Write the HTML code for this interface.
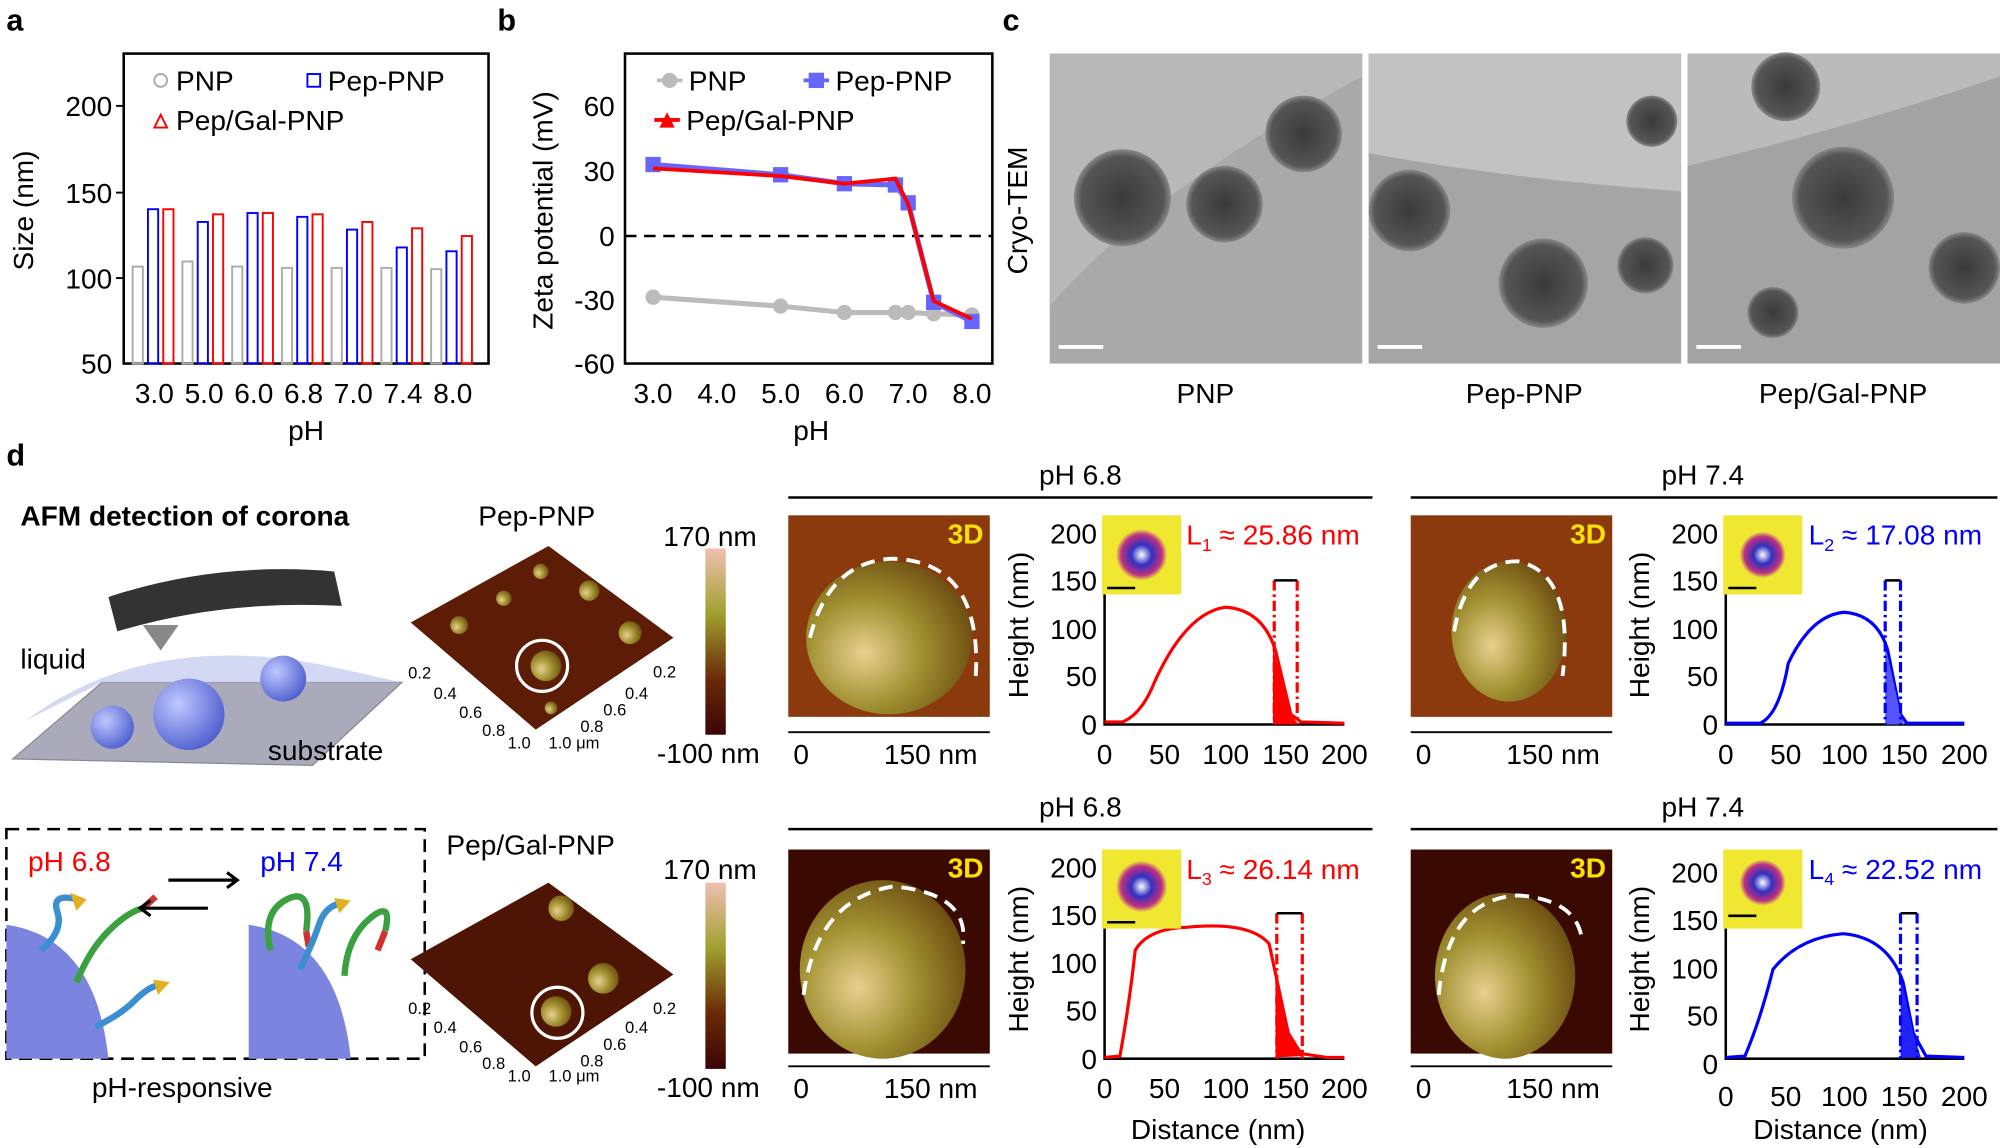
<!DOCTYPE html>
<html><head><meta charset="utf-8"><style>
html,body{margin:0;padding:0;background:#fff;}
svg{display:block;font-family:"Liberation Sans",Arial,sans-serif;}
</style></head><body>
<svg width="2000" height="1148" viewBox="0 0 1568 900" xmlns="http://www.w3.org/2000/svg">
<defs>
<linearGradient id="cb" x1="0" y1="0" x2="0" y2="1"><stop offset="0" stop-color="#f0c0b0"/><stop offset="0.35" stop-color="#a0a030"/><stop offset="0.7" stop-color="#6a2a08"/><stop offset="1" stop-color="#3a0505"/></linearGradient>
<radialGradient id="sph" cx="0.35" cy="0.6" r="0.7"><stop offset="0" stop-color="#e8d090"/><stop offset="0.5" stop-color="#a09030"/><stop offset="1" stop-color="#6a4a10"/></radialGradient>
<radialGradient id="tem" cx="0.5" cy="0.5" r="0.5"><stop offset="0" stop-color="#3a3a3a"/><stop offset="0.85" stop-color="#555"/><stop offset="1" stop-color="#888"/></radialGradient>
<radialGradient id="ins" cx="0.5" cy="0.5" r="0.5"><stop offset="0" stop-color="#fff"/><stop offset="0.4" stop-color="#3030c0"/><stop offset="0.8" stop-color="#c03080"/><stop offset="1" stop-color="#e8e040"/></radialGradient>
<radialGradient id="bs" cx="0.35" cy="0.35" r="0.7"><stop offset="0" stop-color="#c0c8ff"/><stop offset="1" stop-color="#5060d0"/></radialGradient>
</defs>
<g font-weight="bold" font-size="24"><text x="5" y="24">a</text><text x="390" y="24">b</text><text x="786" y="24">c</text><text x="5" y="365">d</text></g>

<!-- Panel a -->
<g font-size="22">
<rect x="97" y="42" width="286" height="243" fill="none" stroke="#000" stroke-width="2"/>
<g text-anchor="end"><text x="88" y="91">200</text><text x="88" y="159">150</text><text x="88" y="226">100</text><text x="88" y="293">50</text></g>
<g stroke="#000" stroke-width="1.5"><line x1="97" y1="83" x2="91" y2="83"/><line x1="97" y1="151" x2="91" y2="151"/><line x1="97" y1="218" x2="91" y2="218"/></g>
<text transform="translate(26,165) rotate(-90)" text-anchor="middle">Size  (nm)</text>
<g text-anchor="middle"><text x="121" y="316">3.0</text><text x="160" y="316">5.0</text><text x="199" y="316">6.0</text><text x="238" y="316">6.8</text><text x="277" y="316">7.0</text><text x="316" y="316">7.4</text><text x="355" y="316">8.0</text><text x="240" y="345">pH</text></g>
<g fill="none" stroke-width="1.5">
<g stroke="#aaa"><rect x="104" y="209" width="8" height="76"/><rect x="143" y="205" width="8" height="80"/><rect x="182" y="209" width="8" height="76"/><rect x="221" y="210" width="8" height="75"/><rect x="260" y="210" width="8" height="75"/><rect x="299" y="210" width="8" height="75"/><rect x="338" y="211" width="8" height="74"/></g>
<g stroke="#00f"><rect x="116" y="164" width="8" height="121"/><rect x="155" y="174" width="8" height="111"/><rect x="194" y="167" width="8" height="118"/><rect x="233" y="170" width="8" height="115"/><rect x="272" y="180" width="8" height="105"/><rect x="311" y="194" width="8" height="91"/><rect x="350" y="197" width="8" height="88"/></g>
<g stroke="#f00"><rect x="128" y="164" width="8" height="121"/><rect x="167" y="168" width="8" height="117"/><rect x="206" y="167" width="8" height="118"/><rect x="245" y="168" width="8" height="117"/><rect x="284" y="174" width="8" height="111"/><rect x="323" y="179" width="8" height="106"/><rect x="362" y="185" width="8" height="100"/></g>
</g>
<circle cx="126" cy="63" r="5" fill="none" stroke="#aaa" stroke-width="1.5"/><text x="138" y="71">PNP</text>
<rect x="241" y="58" width="10" height="10" fill="none" stroke="#00f" stroke-width="1.5"/><text x="257" y="71">Pep-PNP</text>
<path d="M121 100 L126 90 L131 100Z" fill="none" stroke="#f00" stroke-width="1.5"/><text x="138" y="102">Pep/Gal-PNP</text>
</g>

<!-- Panel b -->
<g font-size="22">
<rect x="490" y="42" width="288" height="243" fill="none" stroke="#000" stroke-width="2"/>
<g text-anchor="end"><text x="482" y="91">60</text><text x="482" y="142">30</text><text x="482" y="193">0</text><text x="482" y="243">-30</text><text x="482" y="293">-60</text></g>
<text transform="translate(433,165) rotate(-90)" text-anchor="middle">Zeta potential (mV)</text>
<g text-anchor="middle"><text x="512" y="316">3.0</text><text x="562" y="316">4.0</text><text x="612" y="316">5.0</text><text x="662" y="316">6.0</text><text x="712" y="316">7.0</text><text x="762" y="316">8.0</text><text x="636" y="345">pH</text></g>
<line x1="490" y1="185" x2="778" y2="185" stroke="#000" stroke-width="2" stroke-dasharray="9,6"/>
<polyline points="512,233 612,240 662,245 702,245 712,245 732,246 762,247" fill="none" stroke="#bbb" stroke-width="4"/>
<g fill="#bbb"><circle cx="512" cy="233" r="6"/><circle cx="612" cy="240" r="6"/><circle cx="662" cy="245" r="6"/><circle cx="702" cy="245" r="6"/><circle cx="712" cy="245" r="6"/><circle cx="732" cy="246" r="6"/><circle cx="762" cy="247" r="6"/></g>
<polyline points="512,129 612,137 662,144 702,145 712,159 732,237 762,252" fill="none" stroke="#66f" stroke-width="4"/>
<g fill="#66f"><rect x="506" y="123" width="12" height="12"/><rect x="606" y="131" width="12" height="12"/><rect x="656" y="138" width="12" height="12"/><rect x="696" y="139" width="12" height="12"/><rect x="706" y="153" width="12" height="12"/><rect x="726" y="231" width="12" height="12"/><rect x="756" y="246" width="12" height="12"/></g>
<polyline points="512,132 612,138 662,144 702,140 712,160 732,236 762,250" fill="none" stroke="#f00" stroke-width="3"/>
<circle cx="525" cy="63" r="6" fill="#bbb"/><line x1="515" y1="63" x2="535" y2="63" stroke="#bbb" stroke-width="3"/><text x="540" y="71">PNP</text>
<line x1="630" y1="63" x2="650" y2="63" stroke="#66f" stroke-width="3"/><rect x="634" y="57" width="12" height="12" fill="#66f"/><text x="655" y="71">Pep-PNP</text>
<line x1="513" y1="94" x2="533" y2="94" stroke="#f00" stroke-width="3"/><path d="M517 100 L523 88 L529 100Z" fill="#f00"/><text x="538" y="102">Pep/Gal-PNP</text>
</g>

<!-- Panel c -->
<g>
<rect x="823" y="42" width="245" height="243" fill="#a9a9a9"/>
<rect x="1073" y="42" width="245" height="243" fill="#a5a5a5"/>
<rect x="1323" y="42" width="245" height="243" fill="#a3a3a3"/>
<path d="M823 240 Q900 150 1068 60 L1068 42 L823 42Z" fill="#b8b8b8"/>
<path d="M1073 120 Q1180 140 1318 150 L1318 42 L1073 42Z" fill="#c2c2c2"/>
<path d="M1323 130 Q1450 100 1568 60 L1568 42 L1323 42Z" fill="#bbb"/>
<circle cx="880" cy="155" r="38" fill="url(#tem)"/><circle cx="960" cy="160" r="30" fill="url(#tem)"/><circle cx="1022" cy="105" r="30" fill="url(#tem)"/>
<circle cx="1105" cy="165" r="32" fill="url(#tem)"/><circle cx="1210" cy="222" r="35" fill="url(#tem)"/><circle cx="1290" cy="208" r="22" fill="url(#tem)"/><circle cx="1295" cy="95" r="20" fill="url(#tem)"/>
<circle cx="1445" cy="155" r="40" fill="url(#tem)"/><circle cx="1400" cy="68" r="27" fill="url(#tem)"/><circle cx="1540" cy="210" r="28" fill="url(#tem)"/><circle cx="1390" cy="245" r="20" fill="url(#tem)"/>
<g stroke="#fff" stroke-width="3"><line x1="830" y1="272" x2="865" y2="272"/><line x1="1080" y1="272" x2="1115" y2="272"/><line x1="1330" y1="272" x2="1365" y2="272"/></g>
<g font-size="22" text-anchor="middle"><text transform="translate(805,165) rotate(-90)">Cryo-TEM</text><text x="945" y="316">PNP</text><text x="1195" y="316">Pep-PNP</text><text x="1445" y="316">Pep/Gal-PNP</text></g>
</g>

<!-- Panel d left -->
<g font-size="22">
<text x="16" y="412" font-weight="bold">AFM detection of corona</text>
<path d="M10 595 L80 535 L315 535 L245 600Z" fill="#aab" stroke="#889"/>
<path d="M20 565 Q120 490 270 525 L315 535 L80 535Z" fill="#c8d0f0" opacity="0.8"/>
<circle cx="88" cy="570" r="17" fill="url(#bs)"/><circle cx="148" cy="560" r="28" fill="url(#bs)"/><circle cx="222" cy="532" r="18" fill="url(#bs)"/>
<path d="M85 468 Q170 440 262 448 L268 475 Q175 470 92 495Z" fill="#333"/>
<path d="M112 490 L140 490 L126 510Z" fill="#888"/>
<text x="16" y="524">liquid</text><text x="210" y="596">substrate</text>
<rect x="5" y="650" width="328" height="180" fill="none" stroke="#000" stroke-width="2" stroke-dasharray="10,6"/>
<text x="22" y="683" fill="#f00">pH 6.8</text><text x="204" y="683" fill="#00f">pH 7.4</text>
<path d="M5 830 L5 725 Q75 735 85 830Z" fill="#7b85e0"/><path d="M195 830 L195 725 Q265 735 275 830Z" fill="#7b85e0"/>
<g fill="none" stroke-width="5">
<path d="M32 745 Q50 730 45 715 T60 705" stroke="#3a8fd0"/><path d="M60 770 Q70 745 85 730 T112 712" stroke="#3aa040"/><path d="M112 712 L122 703" stroke="#d03030"/><path d="M75 805 Q95 795 105 785 T122 773" stroke="#3a8fd0"/>
<path d="M212 745 Q205 715 225 705 T240 730" stroke="#3aa040"/><path d="M240 730 L242 742" stroke="#d03030"/><path d="M235 760 Q245 740 250 725 T268 708" stroke="#3a8fd0"/><path d="M270 765 Q272 735 290 720 T302 730" stroke="#3aa040"/><path d="M302 730 L296 745" stroke="#d03030"/>
</g>
<g fill="#e0b020"><path d="M55 700 L68 705 L60 714Z"/><path d="M120 768 L133 770 L124 780Z"/><path d="M262 704 L275 706 L266 716Z"/></g>
<path d="M132 690 L185 690" stroke="#000" stroke-width="2.5"/><path d="M178 684 L186 690 L178 696" fill="none" stroke="#000" stroke-width="2.5"/>
<path d="M110 712 L163 712" stroke="#000" stroke-width="2.5"/><path d="M118 706 L110 712 L118 718" fill="none" stroke="#000" stroke-width="2.5"/>
<text x="72" y="860">pH-responsive</text>
</g>

<!-- AFM 3D small -->
<g font-size="22">
<text x="375" y="412">Pep-PNP</text><text x="350" y="670">Pep/Gal-PNP</text>
<path d="M322 488 L430 428 L528 500 L420 572Z" fill="#5c1c06"/>
<path d="M322 752 L430 692 L528 764 L420 836Z" fill="#4e1505"/>
<g fill="url(#sph)"><circle cx="424" cy="448" r="6"/><circle cx="462" cy="463" r="8"/><circle cx="494" cy="496" r="9"/><circle cx="428" cy="522" r="12"/><circle cx="395" cy="469" r="6"/><circle cx="360" cy="490" r="7"/><circle cx="432" cy="555" r="5"/><circle cx="440" cy="712" r="10"/><circle cx="473" cy="767" r="12"/><circle cx="436" cy="793" r="12"/></g>
<circle cx="425" cy="522" r="20" fill="none" stroke="#fff" stroke-width="2.5"/><circle cx="437" cy="794" r="20" fill="none" stroke="#fff" stroke-width="2.5"/>
<g font-size="13"><text x="320" y="532">0.2</text><text x="340" y="548">0.4</text><text x="360" y="563">0.6</text><text x="378" y="577">0.8</text><text x="398" y="587">1.0</text><text x="512" y="531">0.2</text><text x="490" y="548">0.4</text><text x="473" y="561">0.6</text><text x="455" y="574">0.8</text><text x="430" y="587">1.0 μm</text>
<text x="320" y="795">0.2</text><text x="340" y="810">0.4</text><text x="360" y="825">0.6</text><text x="378" y="838">0.8</text><text x="398" y="848">1.0</text><text x="512" y="795">0.2</text><text x="490" y="810">0.4</text><text x="473" y="823">0.6</text><text x="455" y="836">0.8</text><text x="430" y="848">1.0 μm</text></g>
<rect x="553" y="430" width="16" height="146" fill="url(#cb)"/><rect x="553" y="692" width="16" height="146" fill="url(#cb)"/>
<text x="520" y="428">170 nm</text><text x="515" y="598">-100 nm</text><text x="520" y="689">170 nm</text><text x="515" y="860">-100 nm</text>
</g>

<!-- headings -->
<g font-size="22" text-anchor="middle"><text x="847" y="380">pH 6.8</text><text x="1335" y="380">pH 7.4</text><text x="847" y="640">pH 6.8</text><text x="1335" y="640">pH 7.4</text></g>
<g stroke="#000" stroke-width="2"><line x1="618" y1="390" x2="1076" y2="390"/><line x1="1106" y1="390" x2="1566" y2="390"/><line x1="618" y1="650" x2="1076" y2="650"/><line x1="1106" y1="650" x2="1566" y2="650"/></g>

<!-- 3D AFM images -->
<g>
<rect x="618" y="404" width="158" height="158" fill="#8a3a0c"/><rect x="1106" y="404" width="158" height="158" fill="#8a3a0c"/>
<rect x="618" y="666" width="158" height="160" fill="#3a0a02"/><rect x="1106" y="666" width="158" height="160" fill="#3a0a02"/>
<ellipse cx="697" cy="500" rx="65" ry="60" fill="url(#sph)"/><ellipse cx="1183" cy="495" rx="45" ry="55" fill="url(#sph)"/>
<ellipse cx="692" cy="760" rx="65" ry="70" fill="url(#sph)"/><ellipse cx="1180" cy="765" rx="55" ry="65" fill="url(#sph)"/>
<g fill="none" stroke="#fff" stroke-width="3" stroke-dasharray="11,7"><path d="M635 500 Q650 440 700 438 Q770 440 765 530"/><path d="M1140 495 Q1150 440 1190 440 Q1235 450 1225 530"/><path d="M630 780 Q640 705 700 695 Q760 700 755 740"/><path d="M1128 780 Q1135 705 1190 702 Q1235 705 1240 735"/></g>
<g font-size="22" font-weight="bold" fill="#ffe000"><text x="743" y="426">3D</text><text x="1231" y="426">3D</text><text x="743" y="688">3D</text><text x="1231" y="688">3D</text></g>
<g stroke="#000" stroke-width="1.5"><line x1="618" y1="574" x2="776" y2="574"/><line x1="1106" y1="574" x2="1264" y2="574"/><line x1="618" y1="836" x2="776" y2="836"/><line x1="1106" y1="836" x2="1264" y2="836"/></g>
<g font-size="22"><text x="622" y="599">0</text><text x="693" y="599">150 nm</text><text x="1110" y="599">0</text><text x="1181" y="599">150 nm</text><text x="622" y="861">0</text><text x="693" y="861">150 nm</text><text x="1110" y="861">0</text><text x="1181" y="861">150 nm</text></g>
</g>

<!-- height plots -->
<g font-size="22">
<g stroke="#000" stroke-width="2" fill="none"><polyline points="866,410 866,568 1054,568"/><polyline points="1353,410 1353,568 1540,568"/><polyline points="866,672 866,830 1054,830"/><polyline points="1353,672 1353,830 1540,830"/></g>
<g text-anchor="end"><text x="860" y="426">200</text><text x="860" y="463">150</text><text x="860" y="501">100</text><text x="860" y="538">50</text><text x="860" y="576">0</text>
<text x="1347" y="426">200</text><text x="1347" y="463">150</text><text x="1347" y="501">100</text><text x="1347" y="538">50</text><text x="1347" y="576">0</text>
<text x="860" y="688">200</text><text x="860" y="725">150</text><text x="860" y="763">100</text><text x="860" y="800">50</text><text x="860" y="838">0</text>
<text x="1347" y="692">200</text><text x="1347" y="729">150</text><text x="1347" y="767">100</text><text x="1347" y="804">50</text><text x="1347" y="842">0</text></g>
<g text-anchor="middle"><text x="866" y="599">0</text><text x="913" y="599">50</text><text x="961" y="599">100</text><text x="1008" y="599">150</text><text x="1054" y="599">200</text>
<text x="1353" y="599">0</text><text x="1400" y="599">50</text><text x="1446" y="599">100</text><text x="1493" y="599">150</text><text x="1540" y="599">200</text>
<text x="866" y="861">0</text><text x="913" y="861">50</text><text x="961" y="861">100</text><text x="1008" y="861">150</text><text x="1054" y="861">200</text>
<text x="1353" y="867">0</text><text x="1400" y="867">50</text><text x="1446" y="867">100</text><text x="1493" y="867">150</text><text x="1540" y="867">200</text>
<text x="955" y="893">Distance (nm)</text><text x="1443" y="893">Distance (nm)</text>
<text transform="translate(806,490) rotate(-90)">Height (nm)</text><text transform="translate(1293,490) rotate(-90)">Height (nm)</text>
<text transform="translate(806,752) rotate(-90)">Height (nm)</text><text transform="translate(1293,752) rotate(-90)">Height (nm)</text></g>
<path d="M866 566 L880 566 Q895 560 905 535 Q930 480 961 476 Q990 478 1000 510 L1012 560 L1020 566 L1054 567" fill="none" stroke="#f00" stroke-width="2.5"/>
<path d="M998 508 L1012 560 L1018 568 L998 568Z" fill="#f00"/>
<g stroke="#f00" stroke-width="2.5" stroke-dasharray="8,3,2,3" fill="none"><line x1="999" y1="455" x2="999" y2="568"/><line x1="1017" y1="455" x2="1017" y2="568"/></g>
<line x1="999" y1="455" x2="1017" y2="455" stroke="#000" stroke-width="2"/>
<path d="M1353 567 L1380 567 Q1395 560 1402 520 Q1420 482 1446 480 Q1472 482 1480 510 L1490 560 L1495 567 L1540 567" fill="none" stroke="#00f" stroke-width="2.5"/>
<path d="M1478 505 L1490 560 L1493 568 L1478 568Z" fill="#55f"/>
<g stroke="#00f" stroke-width="2.5" stroke-dasharray="8,3,2,3" fill="none"><line x1="1478" y1="455" x2="1478" y2="568"/><line x1="1490" y1="455" x2="1490" y2="568"/></g>
<line x1="1478" y1="455" x2="1490" y2="455" stroke="#000" stroke-width="2"/>
<path d="M866 829 L878 828 Q885 790 890 745 Q900 728 930 727 Q980 722 995 740 L1010 810 L1020 826 L1040 829 L1054 829" fill="none" stroke="#f00" stroke-width="2.5"/>
<path d="M1000 760 L1010 810 L1022 828 L1000 829Z" fill="#f00"/>
<g stroke="#f00" stroke-width="2.5" stroke-dasharray="8,3,2,3" fill="none"><line x1="1001" y1="716" x2="1001" y2="830"/><line x1="1021" y1="716" x2="1021" y2="830"/></g>
<line x1="1001" y1="716" x2="1021" y2="716" stroke="#000" stroke-width="2"/>
<path d="M1353 829 L1368 828 Q1380 800 1390 760 Q1410 735 1445 732 Q1480 735 1492 770 L1500 810 L1510 828 L1540 829" fill="none" stroke="#00f" stroke-width="2.5"/>
<path d="M1490 765 L1500 810 L1506 829 L1490 829Z" fill="#22f"/>
<g stroke="#00f" stroke-width="2.5" stroke-dasharray="8,3,2,3" fill="none"><line x1="1490" y1="716" x2="1490" y2="830"/><line x1="1503" y1="716" x2="1503" y2="830"/></g>
<line x1="1490" y1="716" x2="1503" y2="716" stroke="#000" stroke-width="2"/>
<g><rect x="864" y="404" width="62" height="62" fill="#f0e830"/><circle cx="895" cy="435" r="20" fill="url(#ins)"/><line x1="868" y1="461" x2="890" y2="461" stroke="#000" stroke-width="2"/>
<rect x="1351" y="404" width="62" height="62" fill="#f0e830"/><circle cx="1382" cy="435" r="18" fill="url(#ins)"/><line x1="1355" y1="461" x2="1377" y2="461" stroke="#000" stroke-width="2"/>
<rect x="864" y="666" width="62" height="62" fill="#f0e830"/><circle cx="895" cy="695" r="20" fill="url(#ins)"/><line x1="868" y1="723" x2="890" y2="723" stroke="#000" stroke-width="2"/>
<rect x="1351" y="666" width="62" height="62" fill="#f0e830"/><circle cx="1382" cy="692" r="18" fill="url(#ins)"/><line x1="1355" y1="718" x2="1377" y2="718" stroke="#000" stroke-width="2"/></g>
<text x="930" y="427" fill="#f00">L<tspan font-size="14" dy="5">1</tspan><tspan dy="-5"> ≈ 25.86 nm</tspan></text>
<text x="1418" y="427" fill="#00f">L<tspan font-size="14" dy="5">2</tspan><tspan dy="-5"> ≈ 17.08 nm</tspan></text>
<text x="930" y="689" fill="#f00">L<tspan font-size="14" dy="5">3</tspan><tspan dy="-5"> ≈ 26.14 nm</tspan></text>
<text x="1418" y="689" fill="#00f">L<tspan font-size="14" dy="5">4</tspan><tspan dy="-5"> ≈ 22.52 nm</tspan></text>
</g>
</svg>
</body></html>
